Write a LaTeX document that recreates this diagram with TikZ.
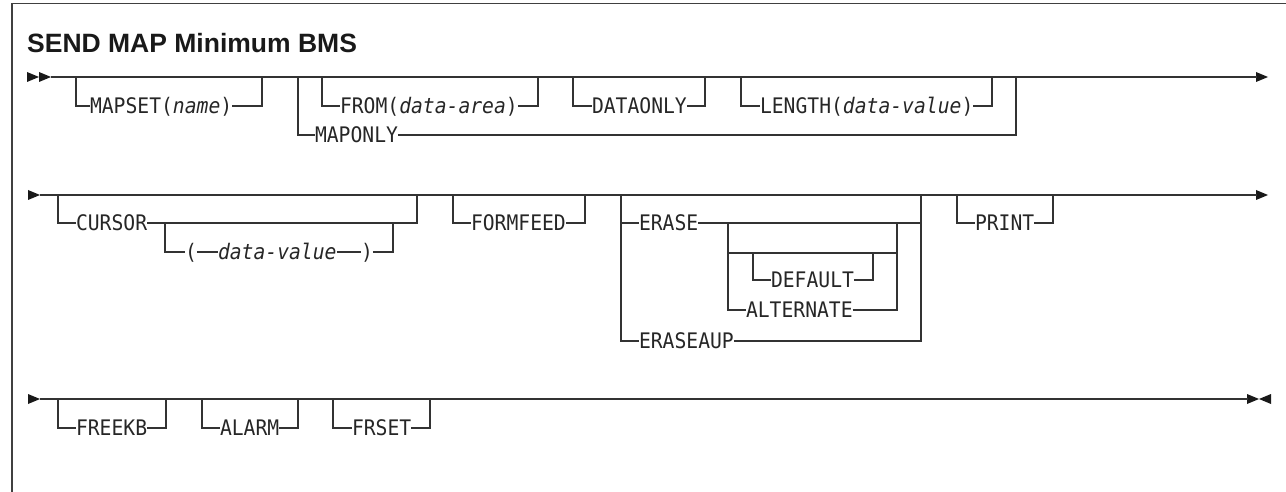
\documentclass[tikz,border=0pt]{standalone}
\usepackage{fontspec}
\setmainfont{Liberation Sans}
\newfontfamily\monofont[FakeStretch=0.92]{DejaVu Sans Mono}
\newcommand\myopt[7]{%
  \node[kw] (#1) at (#6,#5) {#7};
  \coordinate (#1-l) at (#2,#4);
  \coordinate (#1-r) at (#3,#4);
  \draw[rail] (#1-l) |- (#1.west);
  \draw[rail] (#1.east) -| (#1-r);
}
\begin{document}
\begin{tikzpicture}[x=1pt,y=-1pt,
  rail/.style={line width=1.3pt, draw=black!80},
  kw/.style={inner sep=0pt, outer sep=0pt, anchor=west, text height=15.6pt, text depth=0pt,
             font=\monofont\fontsize{21.4}{22}\selectfont, text=black!85},
  tip/.style={fill=black!90, draw=none},
  framel/.style={line width=1.8pt, draw=black!75}]
\useasboundingbox (0,0) rectangle (1286,492);
% frame
\coordinate (fb) at (12,492);
\coordinate (fc) at (12,3.5);
\coordinate (fr) at (1286,3.5);
\draw[framel] (fb) -- (fc) -- (fr);
% title
\node[anchor=base west, inner sep=0pt, font=\bfseries\fontsize{26.5}{30}\selectfont, text=black!90] (title) at (27,53) {SEND MAP Minimum BMS};

% ---------------- row 1 ----------------
\fill[tip] (27,72) -- (39,77) -- (27,82) -- cycle;
\fill[tip] (39,72) -- (51,77) -- (39,82) -- cycle;
\fill[tip] (1256,72) -- (1268,77) -- (1256,82) -- cycle;
\coordinate (r1s) at (51,77);
\coordinate (r1e) at (1257,77);
\draw[rail] (r1s) -- (r1e);
\myopt{mapset}{76}{262}{77}{106}{90}{MAPSET(\textit{name})}
\node[kw] (maponly) at (315,135) {MAPONLY};
\coordinate (c1l) at (298,77);
\coordinate (c1r) at (1016,77);
\draw[rail] (c1l) |- (maponly.west);
\draw[rail] (maponly.east) -| (c1r);
\myopt{from}{322}{538}{77}{106}{340}{FROM(\textit{data-area})}
\myopt{dataonly}{573}{705}{77}{106}{592}{DATAONLY}
\myopt{length}{741}{992}{77}{106}{760}{LENGTH(\textit{data-value})}

% ---------------- row 2 ----------------
\fill[tip] (28,190) -- (40,195) -- (28,200) -- cycle;
\fill[tip] (1256,190) -- (1268,195) -- (1256,200) -- cycle;
\coordinate (r2s) at (40,195);
\coordinate (r2e) at (1257,195);
\draw[rail] (r2s) -- (r2e);
% CURSOR
\node[kw] (cursor) at (76,223) {CURSOR};
\coordinate (cl) at (58,195);
\coordinate (cr) at (417,195);
\draw[rail] (cl) |- (cursor.west);
\draw[rail] (cursor.east) -| (cr);
\coordinate (dl) at (165,223);
\coordinate (dr) at (393,223);
\node[kw] (lp) at (185,252) {(};
\node[kw] (dv) at (218,252) {\textit{data-value}};
\node[kw] (rp) at (361,252) {)};
\draw[rail] (dl) |- (lp.west);
\draw[rail] (lp.east) -- (dv.west);
\draw[rail] (dv.east) -- (rp.west);
\draw[rail] (rp.east) -| (dr);
% FORMFEED
\myopt{formfeed}{453}{585}{195}{223}{471}{FORMFEED}
% ERASE group
\node[kw] (erase) at (639,223) {ERASE};
\node[kw] (eraseaup) at (639,341) {ERASEAUP};
\coordinate (el) at (621,195);
\coordinate (er) at (921,195);
\coordinate (el2) at (621,223);
\coordinate (er2) at (921,223);
\draw[rail] (el) |- (eraseaup.west);
\draw[rail] (eraseaup.east) -| (er);
\draw[rail] (el2) -- (erase.west);
\draw[rail] (erase.east) -- (er2);
\coordinate (nl) at (728,223);
\coordinate (nr) at (897,223);
\coordinate (nl2) at (728,253);
\coordinate (nr2) at (897,253);
\node[kw] (alternate) at (746,310) {ALTERNATE};
\draw[rail] (nl) |- (alternate.west);
\draw[rail] (alternate.east) -| (nr);
\draw[rail] (nl2) -- (nr2);
\myopt{default}{753}{873}{253}{280}{771}{DEFAULT}
% PRINT
\myopt{print}{957}{1053}{195}{223}{975}{PRINT}

% ---------------- row 3 ----------------
\fill[tip] (28,394) -- (40,399) -- (28,404) -- cycle;
\fill[tip] (1247,394) -- (1259,399) -- (1247,404) -- cycle;
\fill[tip] (1271,394) -- (1259,399) -- (1271,404) -- cycle;
\coordinate (r3s) at (40,399);
\coordinate (r3e) at (1248,399);
\draw[rail] (r3s) -- (r3e);
\myopt{freekb}{58}{166}{399}{428}{76}{FREEKB}
\myopt{alarm}{202}{298}{399}{428}{220}{ALARM}
\myopt{frset}{333}{430}{399}{428}{352}{FRSET}
\end{tikzpicture}
\end{document}
